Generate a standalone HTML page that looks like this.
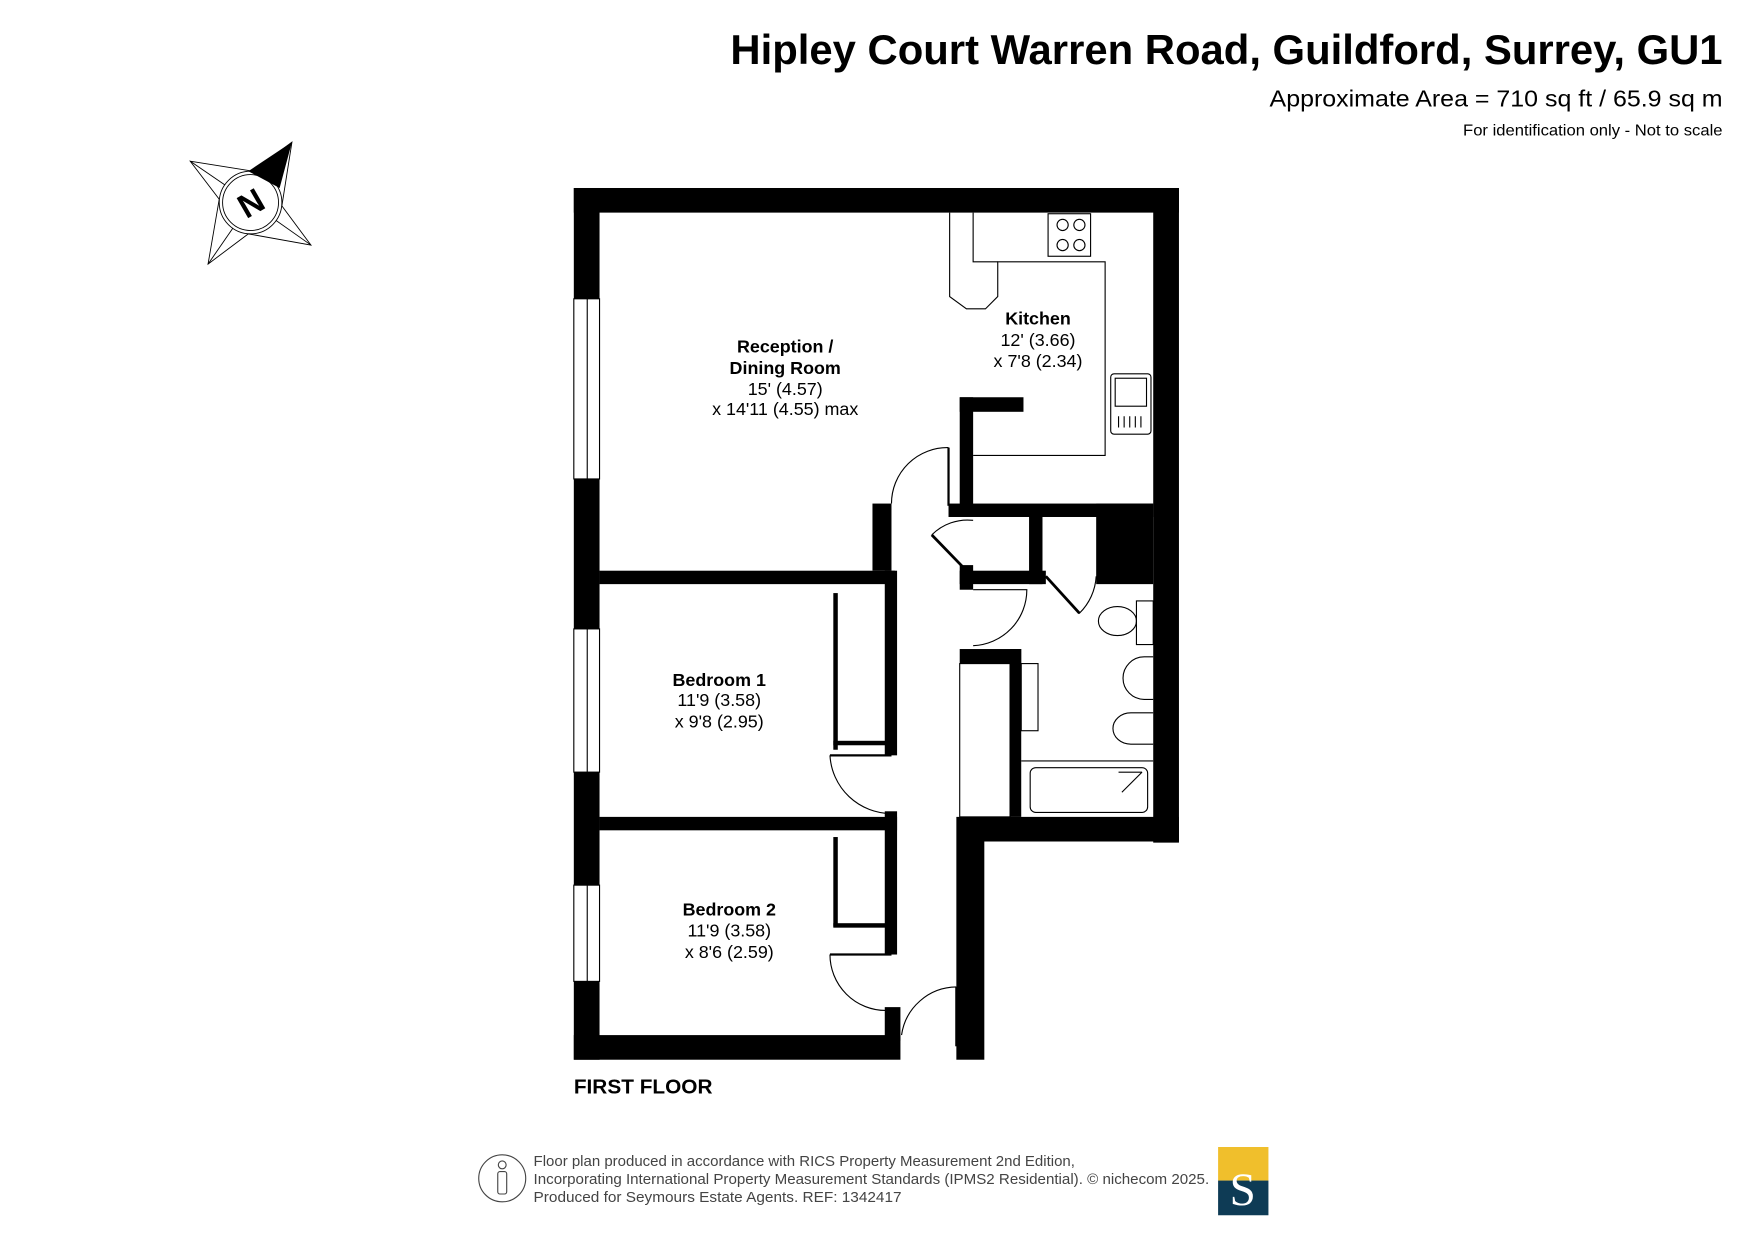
<!DOCTYPE html>
<html><head><meta charset="utf-8"><style>
html,body{margin:0;padding:0;background:#fff;}
svg{display:block;}
text{font-family:"Liberation Sans",Arial,sans-serif;}
</style></head><body>
<svg width="1755" height="1241" viewBox="0 0 1569 1109" preserveAspectRatio="none" xmlns="http://www.w3.org/2000/svg">
<rect width="1569" height="1109" fill="#fff"/>
<!-- header -->
<text x="1540" y="57" text-anchor="end" font-size="37" font-weight="bold" textLength="887" lengthAdjust="spacingAndGlyphs">Hipley Court Warren Road, Guildford, Surrey, GU1</text>
<text x="1540" y="95" text-anchor="end" font-size="21" textLength="405" lengthAdjust="spacingAndGlyphs">Approximate Area = 710 sq ft / 65.9 sq m</text>
<text x="1540" y="121" text-anchor="end" font-size="14" textLength="232" lengthAdjust="spacingAndGlyphs">For identification only - Not to scale</text>

<!-- compass -->
<g stroke="#000" stroke-width="0.8" fill="none">
<polygon points="170,144 226,153 261,127 252,184 278,219 222,209 186,236 196,178"/>
<line x1="170" y1="144" x2="224" y2="181"/>
<line x1="186" y1="236" x2="224" y2="181"/>
<line x1="278" y1="219" x2="224" y2="181"/>
<circle cx="224" cy="181" r="28" fill="#fff"/>
<circle cx="224" cy="181" r="25"/>
</g>
<polygon points="261,127 222,153 250,168" fill="#000"/>
<text x="224" y="192" text-anchor="middle" font-size="30" font-weight="bold" transform="rotate(-30 224 181)">N</text>

<!-- walls -->
<g fill="#000">
<rect x="513" y="168" width="541" height="22"/>
<rect x="513" y="168" width="23" height="779"/>
<rect x="1031" y="168" width="23" height="585"/>
<rect x="858" y="730" width="196" height="22"/>
<rect x="855" y="730" width="25" height="217"/>
<rect x="513" y="925" width="292" height="22"/>
<rect x="536" y="510" width="264" height="12"/>
<rect x="791" y="510" width="11" height="165"/>
<rect x="536" y="730" width="266" height="12"/>
<rect x="791" y="725" width="11" height="128"/>
<rect x="791" y="900" width="14" height="30"/>
<rect x="780" y="450" width="17" height="60"/>
<rect x="858" y="355" width="12" height="97"/>
<rect x="858" y="355" width="57" height="13"/>
<rect x="848" y="450" width="183" height="12"/>
<rect x="920" y="460" width="12" height="62"/>
<rect x="980" y="450" width="51" height="72"/>
<rect x="858" y="510" width="77" height="12"/>
<rect x="858" y="505" width="12" height="22"/>
<rect x="858" y="580" width="55" height="13"/>
<rect x="903" y="580" width="10" height="150"/>
<rect x="745" y="530" width="4" height="140"/>
<rect x="745" y="662" width="48" height="4"/>
<rect x="745" y="748" width="4" height="80"/>
<rect x="745" y="825" width="48" height="4"/>
</g>
<!-- windows -->
<g fill="#fff" stroke="#000" stroke-width="1">
<rect x="513" y="267" width="23" height="161"/>
<rect x="513" y="562" width="23" height="128"/>
<rect x="513" y="791" width="23" height="86"/>
</g>
<g stroke="#000" stroke-width="1"><line x1="525" y1="267" x2="525" y2="428"/><line x1="525" y1="562" x2="525" y2="690"/><line x1="525" y1="791" x2="525" y2="877"/></g>
<!-- doors -->
<g fill="none" stroke="#000" stroke-width="1">
<path d="M797,450 A50,50 0 0 1 848,400"/><line x1="848" y1="400" x2="848" y2="452" stroke-width="2"/>
<path d="M742,675 A55,55 0 0 0 797,727"/><line x1="742" y1="675" x2="797" y2="675" stroke-width="2"/>
<path d="M742,853 A50,50 0 0 0 792,903"/><line x1="742" y1="853" x2="797" y2="853" stroke-width="2"/>
<path d="M806,925 A50,50 0 0 1 855,882"/><line x1="855" y1="882" x2="855" y2="935" stroke-width="2"/>
<path d="M833,478 A45,45 0 0 1 870,465"/><line x1="833" y1="478" x2="866" y2="512" stroke-width="2.5"/>
<path d="M870,527 L918,527 A50,50 0 0 1 870,577"/>
<path d="M935,515 L965,548 A50,50 0 0 0 980,515"/><line x1="935" y1="515" x2="965" y2="548" stroke-width="2.5"/>
<!-- kitchen units -->
<path d="M849,190 V265 L864,276 H881 L892,265 V234 H988 V407 H870"/>
<path d="M870,190 V234 H892"/>
<rect x="937" y="191" width="38" height="38"/>
<circle cx="950" cy="201" r="5"/><circle cx="965" cy="201" r="5"/><circle cx="950" cy="219" r="5"/><circle cx="965" cy="219" r="5"/>
<rect x="993" y="334" width="36" height="54" rx="3"/>
<rect x="997" y="338" width="28" height="25"/>
<path d="M1000,372 v10 M1005,372 v10 M1010,372 v10 M1015,372 v10 M1020,372 v10"/>
<!-- bathroom -->
<rect x="1016" y="537" width="15" height="39"/>
<ellipse cx="999" cy="555" rx="17" ry="13"/>
<path d="M1031,587 h-8 a17,17 0 0 0 0,38 h8"/>
<path d="M1031,637 h-20 a16,14 0 0 0 0,28 h20"/>
<rect x="913" y="593" width="15" height="60"/>
<line x1="913" y1="680" x2="1031" y2="680"/>
<rect x="921" y="686" width="105" height="40" rx="5"/>
<line x1="1000" y1="690" x2="1021" y2="690"/><line x1="1021" y1="690" x2="1003" y2="708"/>
<rect x="858" y="593" width="45" height="137"/>
</g>
<!-- labels -->
<g font-size="16" text-anchor="middle">
<text x="702" y="315" font-weight="bold">Reception /</text>
<text x="702" y="334" font-weight="bold">Dining Room</text>
<text x="702" y="353">15' (4.57)</text>
<text x="702" y="371">x 14'11 (4.55) max</text>
<text x="928" y="290" font-weight="bold">Kitchen</text>
<text x="928" y="309">12' (3.66)</text>
<text x="928" y="328">x 7'8 (2.34)</text>
<text x="643" y="613" font-weight="bold">Bedroom 1</text>
<text x="643" y="631">11'9 (3.58)</text>
<text x="643" y="650">x 9'8 (2.95)</text>
<text x="652" y="818" font-weight="bold">Bedroom 2</text>
<text x="652" y="837">11'9 (3.58)</text>
<text x="652" y="856">x 8'6 (2.59)</text>
</g>
<text x="513" y="977" font-size="18" font-weight="bold" textLength="124" lengthAdjust="spacingAndGlyphs">FIRST FLOOR</text>
<!-- footer -->
<circle cx="449" cy="1053" r="21" fill="none" stroke="#444" stroke-width="1"/>
<g fill="none" stroke="#444" stroke-width="1"><circle cx="449" cy="1041" r="3.5"/><rect x="445" y="1047" width="8" height="20" rx="2"/></g>
<g font-size="13" fill="#444">
<text x="477" y="1042" textLength="484" lengthAdjust="spacingAndGlyphs">Floor plan produced in accordance with RICS Property Measurement 2nd Edition,</text>
<text x="477" y="1058" textLength="604" lengthAdjust="spacingAndGlyphs">Incorporating International Property Measurement Standards (IPMS2 Residential).   © nichecom 2025.</text>
<text x="477" y="1074" textLength="329" lengthAdjust="spacingAndGlyphs">Produced for Seymours Estate Agents.   REF: 1342417</text>
</g>
<rect x="1089" y="1025" width="45" height="30" fill="#f0bf2c"/>
<rect x="1089" y="1055" width="45" height="31" fill="#0e3b55"/>
<text x="1111" y="1077" text-anchor="middle" style="font-family:'Liberation Serif',serif" font-size="42" fill="#fff">S</text>
</svg>
</body></html>
